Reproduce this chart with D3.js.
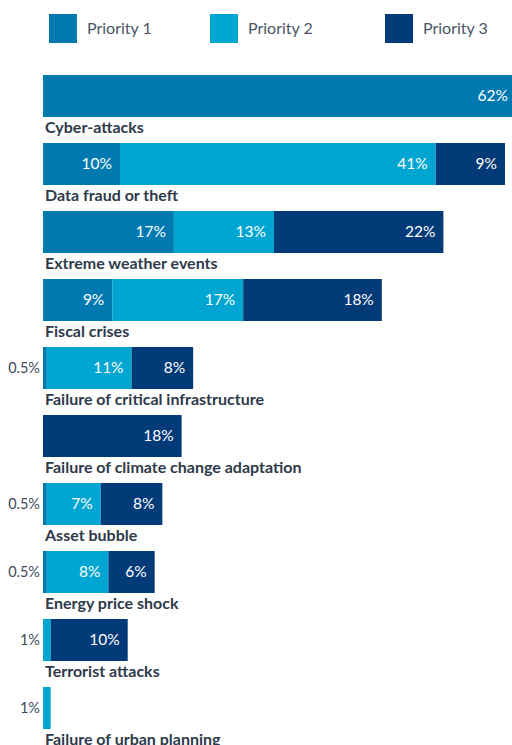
<!DOCTYPE html>
<html><head><meta charset="utf-8">
<script src="https://cdn.jsdelivr.net/npm/d3@7"></script>
<style>body{margin:0;background:#fff;overflow:hidden}svg{display:block}</style>
</head><body>
<svg id="c" width="512" height="745"></svg>
<script>
const categories = ["Cyber-attacks","Data fraud or theft","Extreme weather events","Fiscal crises","Failure of critical infrastructure","Failure of climate change adaptation","Asset bubble","Energy price shock","Terrorist attacks","Failure of urban planning"];
const priority1 = [62, 10, 17, 9, 0.5, 0, 0.5, 0.5, 0, 0];
const priority2 = [0, 41, 13, 17, 11, 0, 7, 8, 1, 1];
const priority3 = [0, 9, 22, 18, 8, 18, 8, 6, 10, 0];
const seriesNames = ["Priority 1","Priority 2","Priority 3"];
const colors = ["#0079b0","#00a5d2","#033a78"];

const svg = d3.select("#c");
const W = 512;
const font = "Lato, 'Open Sans', sans-serif";
const x = d3.scaleLinear().domain([0, 60]).range([43, 505]);
const bh = 42, pitch = 68, top0 = 75;

// legend
const legX = [49, 210, 385];
seriesNames.forEach((s,i)=>{
  svg.append("rect").attr("x",legX[i]).attr("y",14).attr("width",28).attr("height",29).attr("fill",colors[i]);
  svg.append("text").attr("x",legX[i]+38).attr("y",34).text(s)
    .attr("font-family",font).attr("font-size",16).attr("fill","#4a5566");
});

const rows = categories.map((c,i)=>({c, i, v:[priority1[i],priority2[i],priority3[i]]}));
rows.forEach(r=>{
  const top = top0 + r.i*pitch;
  let acc = 0;
  r.v.forEach((v,k)=>{
    if(v<=0) return;
    const x0 = x(acc), x1 = x(acc+v);
    svg.append("rect").attr("x",x0).attr("y",top).attr("width",x1-x0).attr("height",bh).attr("fill",colors[k]);
    const lab = v + "%";
    if(v < 2){
      svg.append("text").attr("x",40).attr("y",top+bh/2).attr("dy","0.35em").attr("text-anchor","end")
        .text(lab).attr("font-family",font).attr("font-size",14.5).attr("fill","#3d4a5a");
    } else {
      svg.append("text").attr("x",Math.min(x1-8, W-4)).attr("y",top+bh/2).attr("dy","0.35em").attr("text-anchor","end")
        .text(lab).attr("font-family",font).attr("font-size",15.5).attr("fill","#ffffff");
    }
    acc += v;
  });
  svg.append("text").attr("x",45).attr("y",top+bh+16).text(r.c)
    .attr("font-family",font).attr("font-size",16).attr("font-weight","bold").attr("fill","#2e3a4a");
});
</script>
</body></html>
